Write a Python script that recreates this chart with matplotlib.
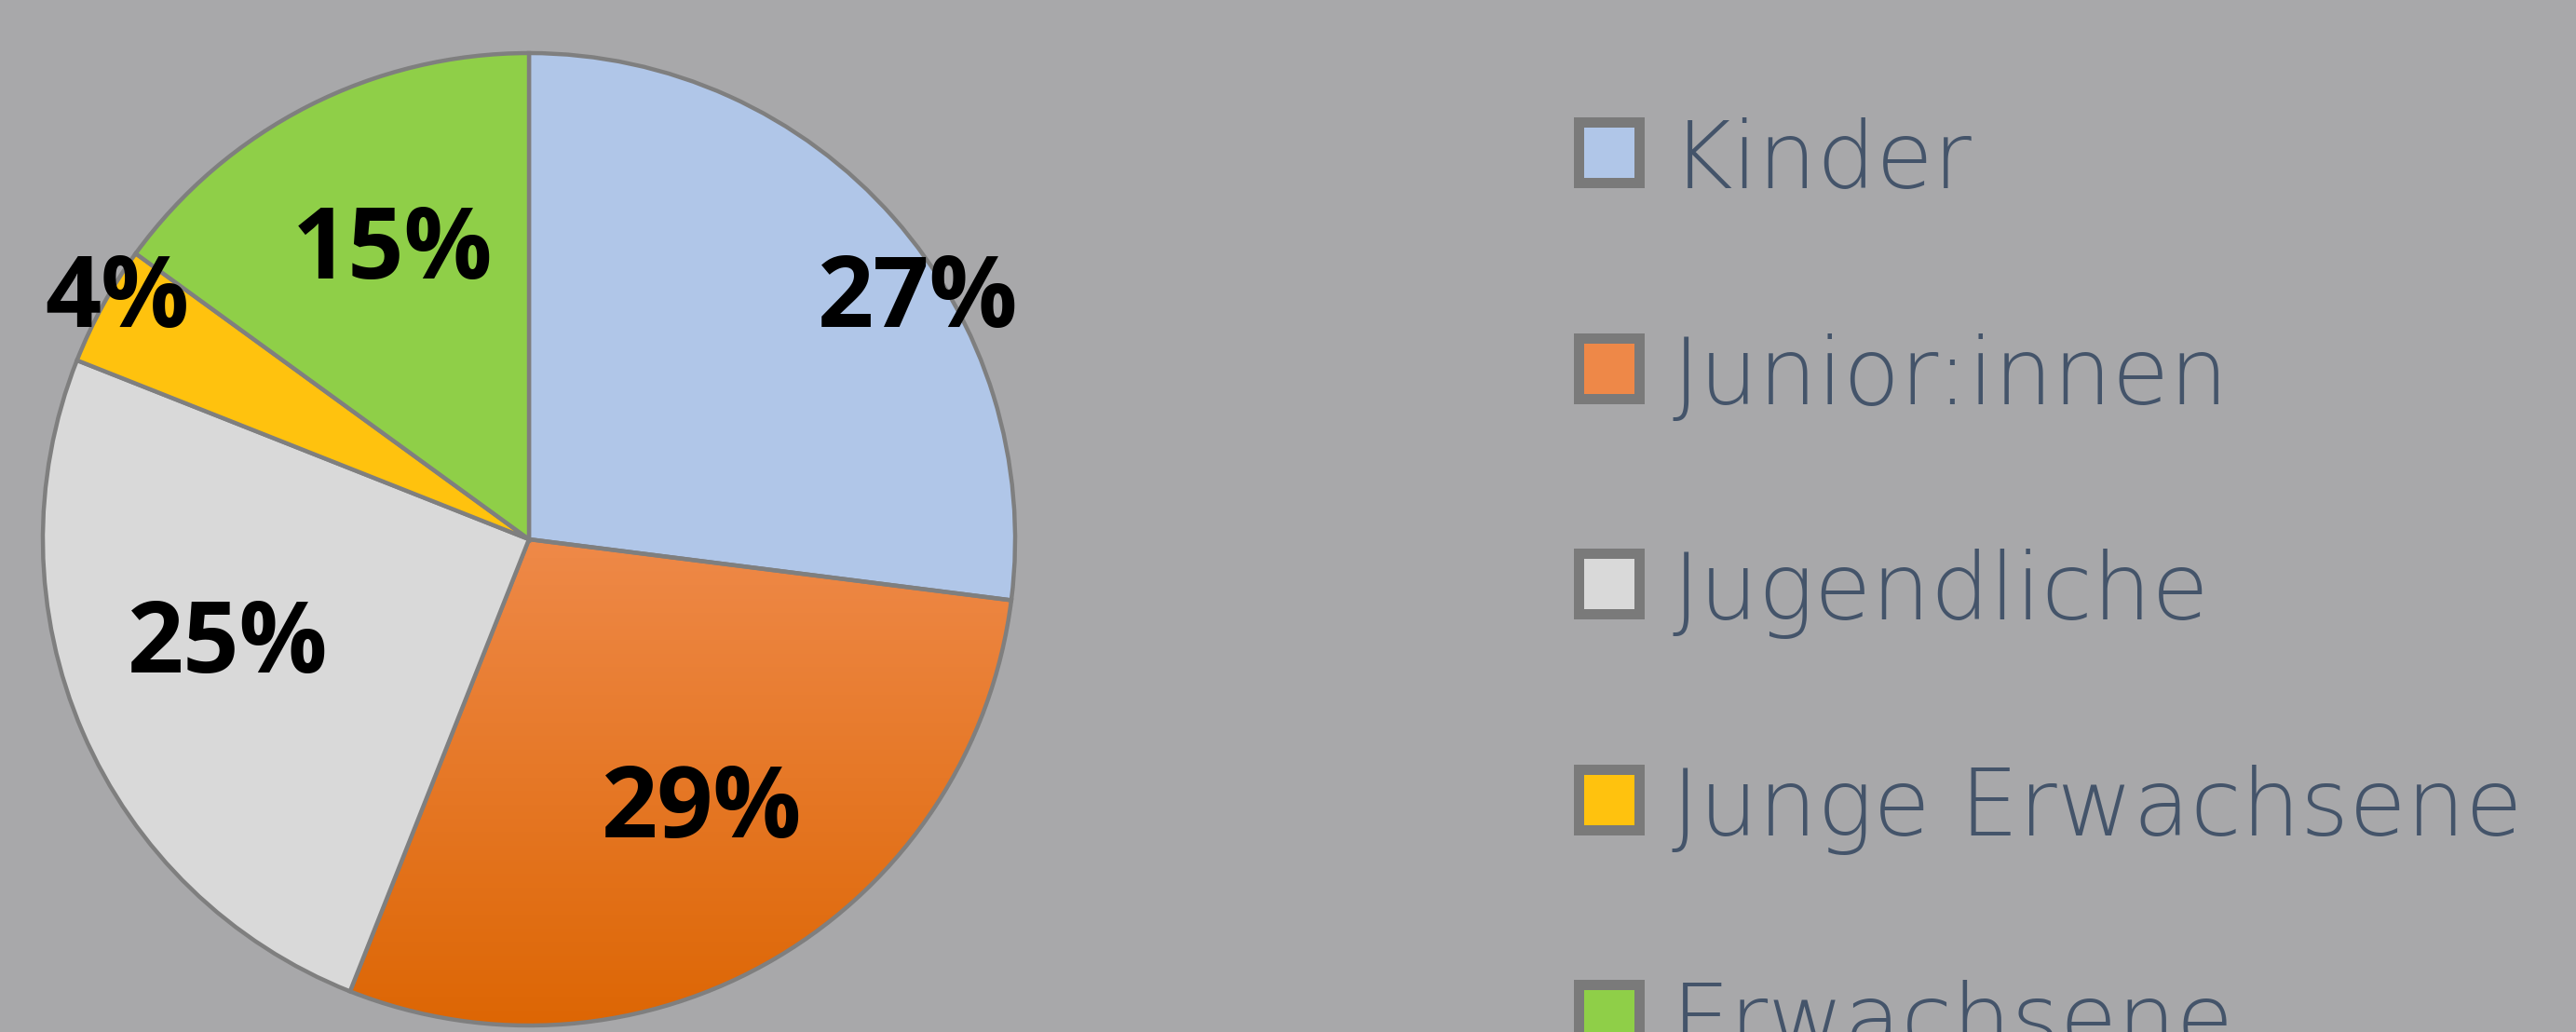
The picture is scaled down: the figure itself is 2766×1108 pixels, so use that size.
import numpy as np
import matplotlib
matplotlib.use("Agg")
import matplotlib.pyplot as plt
from matplotlib.patches import Rectangle
from matplotlib.colors import LinearSegmentedColormap

# ---- data ----
categories = ["Kinder", "Junior:innen", "Jugendliche", "Junge Erwachsene", "Erwachsene"]
values = [27, 29, 25, 4, 15]
colors = ["#B0C6E8", "#EE8848", "#D9D9D9", "#FFC20E", "#8FCF48"]
pct_labels = ["27%", "29%", "25%", "4%", "15%"]

# ---- layout (pixels / radius units) ----
W, H = 2766, 1108
DPI = 100
bg = "#A8A8AA"
cx, cy, R = 568, 579, 522           # pie centre and radius (px, from top)
label_pos = [(0.80, 0.49), (0.356, -0.56), (-0.62, -0.22), (-0.847, 0.49), (-0.28, 0.59)]

fig = plt.figure(figsize=(W / DPI, H / DPI), dpi=DPI, facecolor=bg)
ax = fig.add_axes([(cx - R) / W, (H - cy - R) / H, 2 * R / W, 2 * R / H])
ax.set_facecolor("none")
ax.axis("off")

wedges, _ = ax.pie(values, colors=colors, startangle=90, counterclock=False,
                   radius=1, wedgeprops=dict(edgecolor="#7F7F7F", linewidth=3.2))
ax.set_xlim(-1.0, 1.0)
ax.set_ylim(-1.0, 1.0)

# gradient fill for the orange wedge
orange = wedges[1]
cmap = LinearSegmentedColormap.from_list("og", ["#DD6604", "#EF8A4A"])
grad = np.linspace(0, 1, 256).reshape(-1, 1)
im = ax.imshow(grad, cmap=cmap, origin="lower", extent=[-1, 1, -1, 0.02],
               aspect="auto", zorder=orange.get_zorder() - 0.1)
im.set_clip_path(orange)
orange.set_facecolor("none")
ax.set_xlim(-1.0, 1.0)
ax.set_ylim(-1.0, 1.0)

for txt, (lx, ly) in zip(pct_labels, label_pos):
    ax.text(lx, ly, txt, ha="center", va="center", fontsize=76,
            fontweight="bold", family=["Open Sans", "DejaVu Sans"], color="black", zorder=10)

# ---- legend (manual) ----
sq_cx = 1728
row0, step = 164, 231.5
outer, inner = 76, 54
text_x = 1795
for i, (cat, col) in enumerate(zip(categories, colors)):
    yc = row0 + i * step
    fig.add_artist(Rectangle(((sq_cx - outer / 2) / W, (H - yc - outer / 2) / H),
                             outer / W, outer / H, transform=fig.transFigure,
                             facecolor="#7A7A7A", edgecolor="none"))
    fill = "#EE8848" if i == 1 else col
    fig.add_artist(Rectangle(((sq_cx - inner / 2) / W, (H - yc - inner / 2) / H),
                             inner / W, inner / H, transform=fig.transFigure,
                             facecolor=fill, edgecolor="none"))
    fig.text(text_x / W, (H - yc - 38) / H, cat, ha="left", va="baseline",
             fontsize=72, fontweight=200, family=["DejaVu Sans"], color="#44546A")

fig.savefig("out.png", dpi=DPI, facecolor=bg)
